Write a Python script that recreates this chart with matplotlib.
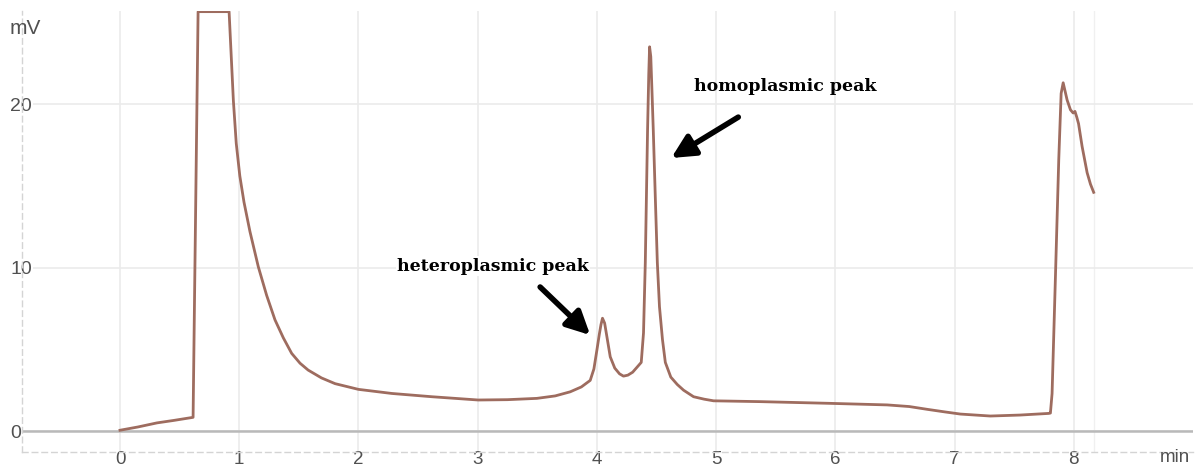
import matplotlib
matplotlib.use("Agg")
import matplotlib.pyplot as plt

# ---- data ----
time_min = [0.0, 0.15, 0.31, 0.45, 0.613, 0.625, 0.655, 0.915, 0.951, 0.975, 1.005, 1.04, 1.09,
            1.16, 1.23, 1.30, 1.37, 1.44, 1.51, 1.578, 1.69, 1.804, 2.0, 2.28, 2.616,
            3.004, 3.25, 3.497, 3.65, 3.776, 3.87, 3.944, 3.975, 4.0, 4.02, 4.034, 4.047,
            4.065, 4.084, 4.112, 4.15, 4.19, 4.223, 4.26, 4.30, 4.336, 4.372, 4.391, 4.406,
            4.425, 4.435, 4.442, 4.452, 4.462, 4.473, 4.49, 4.507, 4.525, 4.55, 4.574,
            4.62, 4.674, 4.727, 4.811, 4.9, 4.979, 5.37, 5.93, 6.434, 6.62, 6.77, 6.92,
            7.049, 7.30, 7.55, 7.79, 7.804, 7.818, 7.846, 7.874, 7.894, 7.911, 7.944,
            7.972, 7.995, 8.01, 8.025, 8.04, 8.07, 8.112, 8.14, 8.167]
signal_mv = [0.05, 0.25, 0.5, 0.65, 0.84, 8.0, 25.65, 25.65, 20.2, 17.6, 15.6, 14.0, 12.2,
             10.05, 8.3, 6.8, 5.7, 4.75, 4.15, 3.73, 3.25, 2.9, 2.55, 2.3, 2.1,
             1.9, 1.92, 2.0, 2.15, 2.4, 2.7, 3.1, 3.8, 4.95, 5.9, 6.5, 6.9,
             6.6, 5.77, 4.54, 3.85, 3.5, 3.36, 3.42, 3.6, 3.9, 4.2, 6.0, 10.3,
             18.4, 21.8, 23.5, 22.9, 20.8, 18.4, 14.3, 10.3, 7.6, 5.6, 4.2,
             3.3, 2.85, 2.5, 2.1, 1.95, 1.85, 1.8, 1.7, 1.6, 1.5, 1.33, 1.17,
             1.04, 0.92, 0.98, 1.08, 1.1, 2.3, 9.4, 16.6, 20.65, 21.3, 20.25,
             19.65, 19.45, 19.55, 19.2, 18.8, 17.4, 15.8, 15.1, 14.6]

x_ticks = [0, 1, 2, 3, 4, 5, 6, 7, 8]
y_ticks = [0, 10, 20]
x_unit = "min"
y_unit = "mV"
label_hetero = "heteroplasmic peak"
label_homo = "homoplasmic peak"

LINE_COLOR = "#9e6c5f"
GRID_COLOR = "#ebebeb"
TEXT_COLOR = "#505050"

fig = plt.figure(figsize=(11.98, 4.67), dpi=100)
ax = fig.add_axes([22 / 1198, 1 - 452 / 467, (1193 - 22) / 1198, (452 - 10.5) / 467])

ax.set_xlim(-0.822, 9.0)
ax.set_ylim(-1.28, 25.72)

ax.set_xticks(x_ticks)
ax.set_yticks(y_ticks)
ax.grid(True, color=GRID_COLOR, linewidth=1.2)
ax.set_axisbelow(True)
ax.axhline(0, color="#b9b9b9", linewidth=1.8, zorder=1)
ax.axvline(time_min[-1], color="#f0f0f0", linewidth=1.0, zorder=0.5)

for side in ("top", "right"):
    ax.spines[side].set_visible(False)
for side in ("left", "bottom"):
    ax.spines[side].set_color("#d4d4d4")
    ax.spines[side].set_linestyle((0, (4, 3)))
    ax.spines[side].set_linewidth(1.0)

ax.tick_params(axis="x", length=0, pad=-1.0, labelsize=13.5, labelcolor=TEXT_COLOR)
ax.tick_params(axis="y", length=0, pad=8.6, labelsize=14, labelcolor=TEXT_COLOR)
for lab in ax.get_xticklabels() + ax.get_yticklabels():
    lab.set_fontfamily("Liberation Sans")
for lab in ax.get_yticklabels():
    lab.set_horizontalalignment("left")
    lab.set_bbox(dict(facecolor="white", edgecolor="none", pad=1))

ax.plot(time_min, signal_mv, color=LINE_COLOR, linewidth=2.0, solid_joinstyle="round", zorder=3)

fig.text(10 / 1198, 1 - 29 / 467, y_unit, fontsize=15, color=TEXT_COLOR,
         family="Liberation Sans", ha="left", va="center")
fig.text(1175 / 1198, 1 - 458 / 467, x_unit, fontsize=13.5, color=TEXT_COLOR,
         family="Liberation Sans", ha="center", va="center")

text_kw = dict(fontsize=12.5, family="DejaVu Serif", fontweight="bold", color="black",
               ha="center", va="center")
ax.text(3.13, 10.09, label_hetero,
        bbox=dict(facecolor="white", edgecolor="none", pad=1), zorder=4, **text_kw)
ax.text(5.578, 21.07, label_homo, zorder=4, **text_kw)

arrow_kw = dict(arrowstyle="-|>,head_length=1.0,head_width=0.5", color="black",
                linewidth=4, mutation_scale=14, shrinkA=0, shrinkB=0)
ax.annotate("", xy=(3.944, 5.87), xytext=(3.524, 8.81), arrowprops=arrow_kw, zorder=5)
ax.annotate("", xy=(4.624, 16.7), xytext=(5.186, 19.2), arrowprops=arrow_kw, zorder=5)

fig.savefig("out.png", dpi=100)
